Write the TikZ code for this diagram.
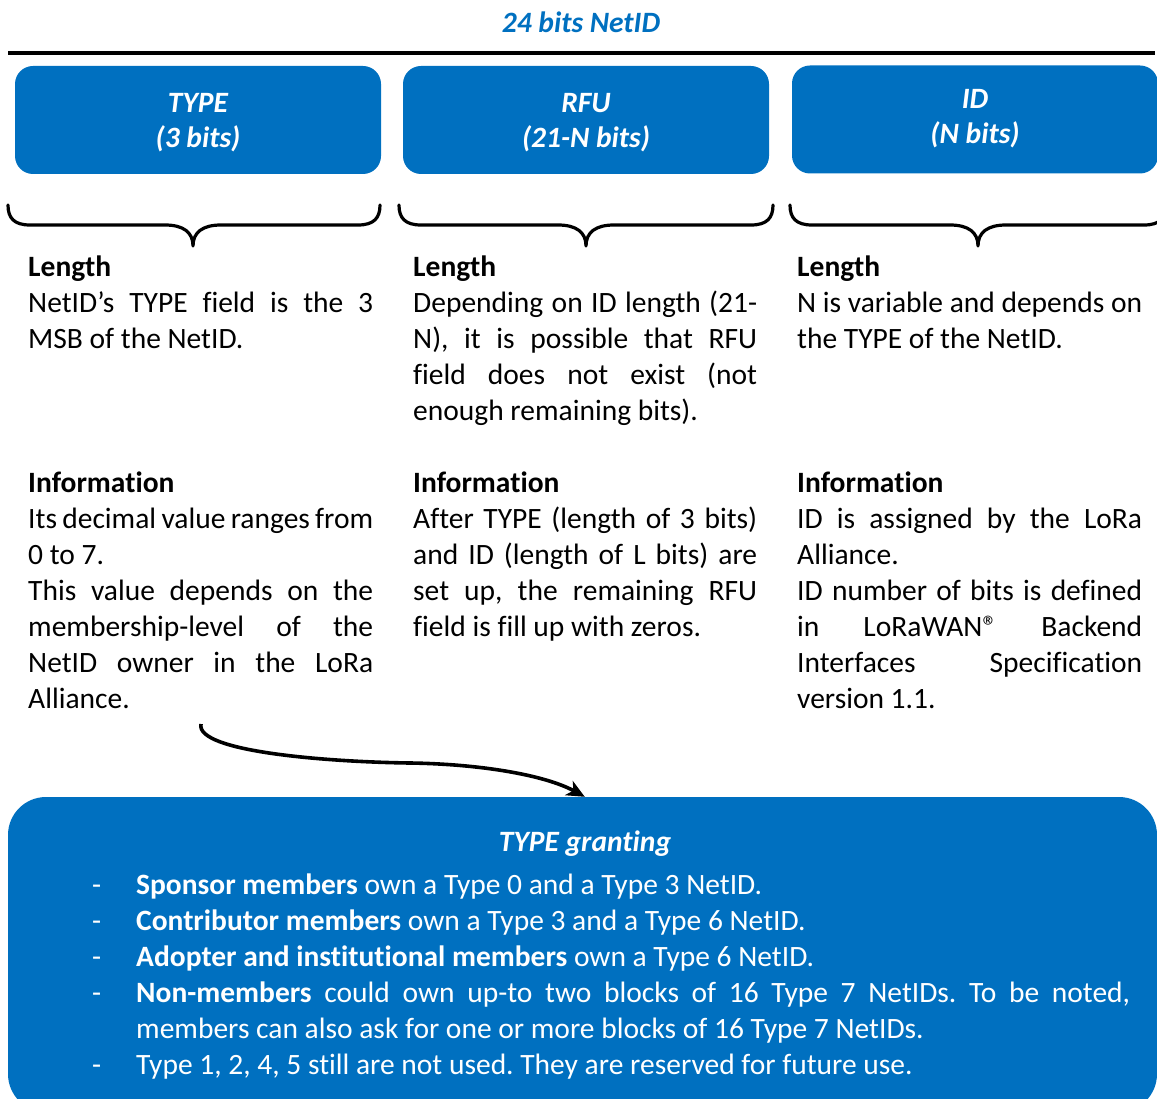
\documentclass[tikz,border=0pt]{standalone}
\usepackage{fontspec}
\setmainfont{Carlito}[Ligatures={NoCommon}]
\usetikzlibrary{arrows.meta}
\definecolor{lorablue}{HTML}{0070C0}
\frenchspacing
% base text size of the sheet
\newcommand{\basefont}{\fontsize{29.5pt}{36pt}\selectfont\frenchspacing}
% one justified line inside a column
\newcommand{\jl}[1]{\makebox[\linewidth][s]{#1}}
% curly brace under a field: left end, tip, right end
\newcommand{\fieldbrace}[3]{%
  \draw[bracestyle] (#1,205) .. controls (#1,218) and ({#1+6},225) .. ({#1+22},225)
    -- ({#2-28},225) .. controls ({#2-10},225) and (#2,232) .. (#2,246)
    .. controls (#2,232) and ({#2+10},225) .. ({#2+28},225)
    -- ({#3-22},225) .. controls ({#3-6},225) and (#3,218) .. (#3,205);}
\tikzset{
  field/.style={fill=lorablue, draw=none, rounded corners=18pt, inner sep=0pt,
    minimum height=108pt},
  fieldtext/.style={text=white, font=\basefont\bfseries\itshape, inner sep=0pt},
  bracestyle/.style={line width=3.2pt, line cap=round, line join=round},
  column/.style={font=\basefont, inner sep=0pt, anchor=base west, text=black},
  granttext/.style={font=\basefont, inner sep=0pt, anchor=base west, text=white},
  flow/.style={line width=3.6pt, -{Stealth[length=18pt, width=16pt, inset=5pt]}},
}
\begin{document}
\begin{tikzpicture}[x=1pt, y=-1pt]
\useasboundingbox (0,0) rectangle (1157,1099);
\clip (0,0) rectangle (1157,1099);

% heading and rule
\node[font=\basefont\bfseries\itshape, text=lorablue, inner sep=0pt, anchor=base]
  (title) at (581,33) {24 bits NetID};
\draw[line width=3.6pt] (8,53) -- (1155,53);

% the three NetID fields
\node[field, minimum width=366pt] (typebox) at (198,120) {};
\node[field, minimum width=366pt] (rfubox) at (586,120) {};
\node[field, minimum width=366pt] (idbox) at (975,119.5) {};

\node[fieldtext, anchor=base] (typename) at (typebox.center |- 0,113) {TYPE};
\node[fieldtext, anchor=base] (typebits) at (typebox.center |- 0,148) {(3 bits)};
\node[fieldtext, anchor=base] (rfuname) at (rfubox.center |- 0,113) {RFU};
\node[fieldtext, anchor=base] (rfubits) at (rfubox.center |- 0,148) {(21-N bits)};
\node[fieldtext, anchor=base] (idname) at (idbox.center |- 0,109) {ID};
\node[fieldtext, anchor=base] (idbits) at (idbox.center |- 0,144) {(N bits)};

% braces
\fieldbrace{8}{193}{380}
\fieldbrace{399}{586}{773}
\fieldbrace{790}{978}{1166}

% descriptions
\node[column] (typetext) at (28,277) {\parbox[t]{345pt}{%
  \textbf{Length}\\
  \jl{NetID’s TYPE field is the 3}\\
  MSB of the NetID.\\
  \mbox{}\\
  \mbox{}\\
  \mbox{}\\
  \textbf{Information}\\
  \jl{Its decimal value ranges from}\\
  0 to 7.\\
  \jl{This value depends on the}\\
  \jl{membership-level of the}\\
  \jl{NetID owner in the LoRa}\\
  Alliance.}};

\node[column] (rfutext) at (413,277) {\parbox[t]{344pt}{%
  \textbf{Length}\\
  \jl{Depending on ID length (21-}\\
  \jl{N), it is possible that RFU}\\
  \jl{field does not exist (not}\\
  enough remaining bits).\\
  \mbox{}\\
  \textbf{Information}\\
  \jl{After TYPE (length of 3 bits)}\\
  \jl{and ID (length of L bits) are}\\
  \jl{set up, the remaining RFU}\\
  field is fill up with zeros.}};

\node[column] (idtext) at (797,277) {\parbox[t]{345pt}{%
  \textbf{Length}\\
  \jl{N is variable and depends on}\\
  the TYPE of the NetID.\\
  \mbox{}\\
  \mbox{}\\
  \mbox{}\\
  \textbf{Information}\\
  \jl{ID is assigned by the LoRa}\\
  Alliance.\\
  \jl{ID number of bits is defined}\\
  \jl{in LoRaWAN® Backend}\\
  \jl{Interfaces Specification}\\
  version 1.1.}};

% granting box
\node[fill=lorablue, draw=none, rounded corners=38pt, inner sep=0pt,
  minimum width=1149pt, minimum height=315pt] (grant) at (582.5,954.5) {};
\node[font=\basefont\bfseries\itshape, text=white, inner sep=0pt, anchor=base]
  (granttitle) at (585,851) {TYPE granting};

\node[granttext] (dash1) at (92,894) {-};
\node[granttext] (item1) at (136,894) {\textbf{Sponsor members} own a Type 0 and a Type 3 NetID.};
\node[granttext] (dash2) at (92,930) {-};
\node[granttext] (item2) at (136,930) {\textbf{Contributor members} own a Type 3 and a Type 6 NetID.};
\node[granttext] (dash3) at (92,966) {-};
\node[granttext] (item3) at (136,966) {\textbf{Adopter and institutional members} own a Type 6 NetID.};
\node[granttext] (dash4) at (92,1002) {-};
\node[granttext] (item4) at (136,1002) {\makebox[994pt][s]{\textbf{Non-members} could own up-to two blocks of 16 Type 7 NetIDs. To be noted,}};
\node[granttext] (item4b) at (136,1038) {members can also ask for one or more blocks of 16 Type 7 NetIDs.};
\node[granttext] (dash5) at (92,1074) {-};
\node[granttext] (item5) at (136,1074) {Type 1, 2, 4, 5 still are not used. They are reserved for future use.};

% link from the TYPE information to the granting rules
\coordinate (flowfrom) at (201,724);
\coordinate (flowto) at ([xshift=577pt]grant.north west);
\draw[flow] (flowfrom) .. controls (195,752) and (330,762) .. (410,763)
  .. controls (480,764) and (545,775) .. (flowto);
\end{tikzpicture}
\end{document}
